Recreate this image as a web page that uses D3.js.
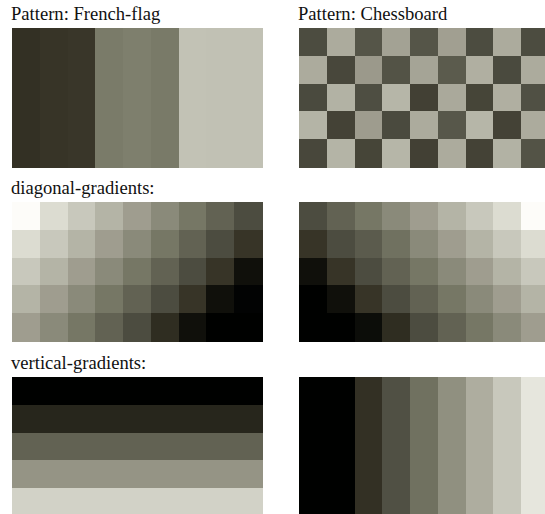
<!doctype html>
<html>
    <head>
        <title>Patterns</title>
        <script src="https://d3js.org/d3.v7.min.js"></script>
        <style type="text/css">
            body { margin: 0; background: #fff; }
            text.title {
                font-family: "Liberation Serif", "Times New Roman", serif;
                font-size: 18.6px;
                fill: #111;
            }
            rect.cell { shape-rendering: crispEdges; }
        </style>
    </head>
    <body>

        <script>
        // colormap stops: lightness index 0 (light) .. 12 (dark)
        var cmapIndex = [0, 1, 2, 3, 4, 5, 6, 7, 8, 9, 10, 11, 12];
        var cmapColors = ["#fdfcf9", "#dcdcd1", "#c8c8bc", "#b4b4a6", "#9f9d8f", "#8a8a7a",
                          "#767765", "#626253", "#4c4c40", "#373427", "#10100b", "#040505", "#000100"];

        var cols = [0, 1, 2, 3, 4, 5, 6, 7, 8];
        var rows = [0, 1, 2, 3, 4];

        var frenchFlag = [
            [9.1, 9.0, 8.9, 5.8, 5.6, 5.85, 2.3, 2.35, 2.35],
            [9.1, 9.0, 8.9, 5.8, 5.6, 5.85, 2.3, 2.35, 2.35],
            [9.1, 9.0, 8.9, 5.8, 5.6, 5.85, 2.3, 2.35, 2.35],
            [9.1, 9.0, 8.9, 5.8, 5.6, 5.85, 2.3, 2.35, 2.35],
            [9.1, 9.0, 8.9, 5.8, 5.6, 5.85, 2.3, 2.35, 2.35]
        ];
        var chessboard = [
            [8.0, 3.4, 7.6, 3.8, 7.6, 3.9, 8.0, 3.4, 8.0],
            [3.4, 8.2, 4.2, 7.7, 3.7, 7.3, 3.2, 8.1, 3.4],
            [8.1, 3.1, 7.9, 2.9, 8.5, 3.5, 8.3, 3.2, 7.8],
            [3.0, 8.4, 4.05, 8.1, 3.4, 7.5, 2.9, 8.4, 3.4],
            [8.2, 3.0, 8.3, 2.9, 8.5, 3.4, 8.4, 3.1, 7.7]
        ];
        var diagLeft = [
            [0, 1, 2, 3, 4, 5, 6, 7, 8],
            [1, 2, 3, 4, 5, 6, 7, 8, 9],
            [2, 3, 4, 5, 6, 7, 8, 9, 10],
            [3, 4, 5, 6, 7, 8, 9, 10, 11.5],
            [4, 5, 6, 7, 8, 9.2, 10, 12, 12]
        ];
        var diagRight = [
            [8, 7, 6, 5, 4, 3, 2, 1, 0],
            [9, 8, 7.3, 6.3, 5, 4, 3, 2, 1],
            [10, 9, 8, 7, 6, 5, 4, 3, 2],
            [12, 10, 9, 8, 7, 6, 5, 4, 3],
            [12, 12, 10.3, 9.2, 8, 7, 6, 5, 4]
        ];
        var vertLeft = [
            [12, 12, 12, 12, 12, 12, 12, 12, 12],
            [9.4, 9.4, 9.4, 9.4, 9.4, 9.4, 9.4, 9.4, 9.4],
            [7.0, 7.0, 7.0, 7.0, 7.0, 7.0, 7.0, 7.0, 7.0],
            [4.5, 4.5, 4.5, 4.5, 4.5, 4.5, 4.5, 4.5, 4.5],
            [1.5, 1.5, 1.5, 1.5, 1.5, 1.5, 1.5, 1.5, 1.5]
        ];
        var vertRight = [
            [12, 12, 9.1, 7.8, 6.3, 4.7, 3.3, 2.0, 0.7],
            [12, 12, 9.1, 7.8, 6.3, 4.7, 3.3, 2.0, 0.7],
            [12, 12, 9.1, 7.8, 6.3, 4.7, 3.3, 2.0, 0.7],
            [12, 12, 9.1, 7.8, 6.3, 4.7, 3.3, 2.0, 0.7],
            [12, 12, 9.1, 7.8, 6.3, 4.7, 3.3, 2.0, 0.7]
        ];

        var panels = [
            {title: "Pattern: French-flag", grid: frenchFlag, x: 12, y: 28},
            {title: "Pattern: Chessboard", grid: chessboard, x: 299, y: 28},
            {title: "diagonal-gradients:", grid: diagLeft, x: 12, y: 202},
            {title: null, grid: diagRight, x: 299, y: 202},
            {title: "vertical-gradients:", grid: vertLeft, x: 12, y: 377},
            {title: null, grid: vertRight, x: 299, y: 377}
        ];

        var color = d3.scaleLinear().domain(cmapIndex).range(cmapColors).clamp(true);

        var panelW = 250, panelH = 139;
        var xScale = d3.scaleBand().domain(cols).range([0, panelW]);
        var yScale = d3.scaleBand().domain(rows).range([0, panelH]);

        var svg = d3.select("body").append("svg").attr("width", 545).attr("height", 514);

        for (var p = 0; p < panels.length; p++) {
            var pan = panels[p];
            var g = svg.append("g").attr("transform", "translate(" + pan.x + "," + pan.y + ")");

            if (pan.title) {
                g.append("text")
                    .attr("class", "title")
                    .attr("x", -1)
                    .attr("y", -8)
                    .text(pan.title);
            }

            var cells = [];
            pan.grid.forEach(function(row, r) {
                row.forEach(function(v, c) { cells.push({r: r, c: c, v: v}); });
            });

            g.selectAll("rect.cell")
                .data(cells)
                .enter().append("rect")
                    .attr("class", "cell")
                    .attr("x", function(d) { return xScale(d.c); })
                    .attr("y", function(d) { return yScale(d.r); })
                    .attr("width", xScale.bandwidth() + 0.6)
                    .attr("height", yScale.bandwidth() + 0.6)
                    .attr("fill", function(d) { return color(d.v); });
        }
        </script>

    </body>
</html>
